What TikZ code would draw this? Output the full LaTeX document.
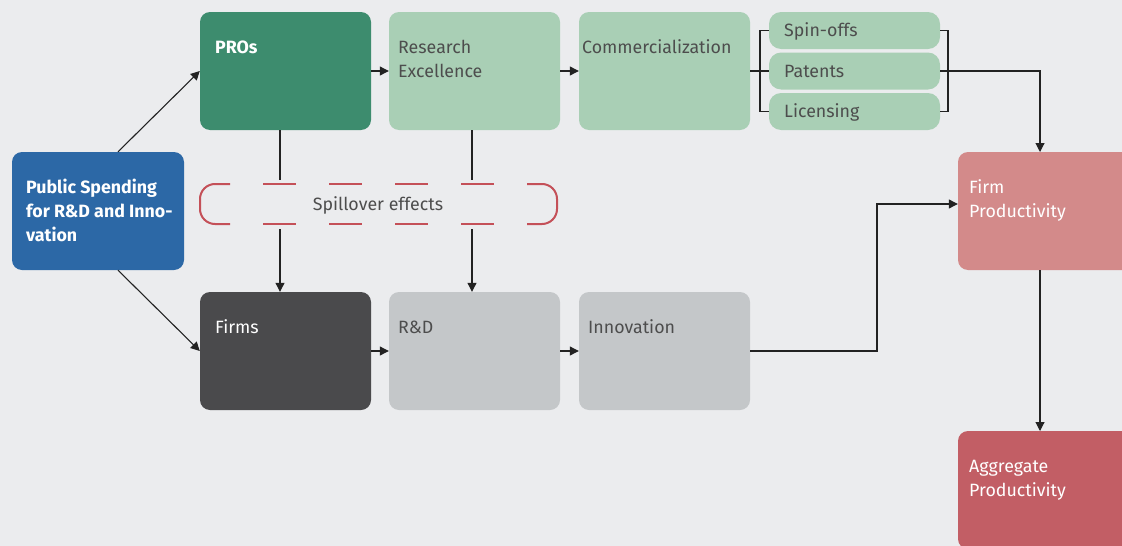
\documentclass[tikz,border=0pt]{standalone}
\usepackage{fontspec}
\setmainfont{Fira Sans}
\usetikzlibrary{arrows.meta}
\definecolor{bgc}{HTML}{EBECEE}
\definecolor{pubblue}{HTML}{2C68A6}
\definecolor{prosgreen}{HTML}{3D8C6E}
\definecolor{lightgreen}{HTML}{A9CFB5}
\definecolor{firmpink}{HTML}{D38A8A}
\definecolor{aggred}{HTML}{C25E65}
\definecolor{firmdark}{HTML}{4A4A4C}
\definecolor{lightgray}{HTML}{C4C7C9}
\definecolor{spillred}{HTML}{C45058}
\definecolor{txtgray}{HTML}{4D4D4D}
\definecolor{linec}{HTML}{222222}
\begin{document}
\begin{tikzpicture}[x=1pt,y=-1pt,
  box/.style={draw=none,rounded corners=10pt,inner sep=0pt,minimum width=171pt,minimum height=118pt},
  pill/.style={draw=none,rounded corners=12pt,inner sep=0pt,minimum width=171pt,minimum height=37pt},
  lbl/.style={anchor=base west,inner sep=0pt,align=left,font=\fontsize{17.8}{24}\selectfont},
  boldlbl/.style={lbl,text=white,font=\fontsize{17.8}{24}\selectfont\bfseries},
  conn/.style={draw=linec,line width=1.1pt},
  arr/.style={conn,-{Triangle[length=9pt,width=9pt]}}]
\fill[bgc] (0,0) rectangle (1122,546);
\useasboundingbox (0,0) rectangle (1122,546);

% boxes
\node[box,fill=pubblue,minimum width=172pt] (pub) at (98,211) {};
\node[box,fill=prosgreen] (pros) at (285.5,71) {};
\node[box,fill=lightgreen] (rex) at (474.5,71) {};
\node[box,fill=lightgreen] (com) at (664.5,71) {};
\node[pill,fill=lightgreen] (spin) at (854.5,30.5) {};
\node[pill,fill=lightgreen] (pat) at (854.5,71) {};
\node[pill,fill=lightgreen] (lic) at (854.5,111.5) {};
\node[box,fill=firmdark] (firms) at (285.5,351) {};
\node[box,fill=lightgray] (rd) at (474.5,351) {};
\node[box,fill=lightgray] (inn) at (664.5,351) {};
\node[box,fill=firmpink,minimum width=180pt] (fp) at (1048,211) {};
\node[box,fill=aggred,minimum width=180pt] (agg) at (1048,490) {};

% labels (anchored at the baseline of their last line)
\node[boldlbl] (tpub) at (26,241) {Public Spending\\for R\&D and Inno-\\vation};
\node[boldlbl] (tpros) at (215,53) {PROs};
\node[lbl,text=txtgray] (trex) at (398,77) {Research\\Excellence};
\node[lbl,text=txtgray] (tcom) at (582,53) {Commercialization};
\node[lbl,text=txtgray] (tspin) at (784,36) {Spin-offs};
\node[lbl,text=txtgray] (tpat) at (784,77) {Patents};
\node[lbl,text=txtgray] (tlic) at (784,117) {Licensing};
\node[lbl,text=white] (tfirms) at (215,333) {Firms};
\node[lbl,text=txtgray] (trd) at (398,333) {R\&D};
\node[lbl,text=txtgray] (tinn) at (588,333) {Innovation};
\node[lbl,text=white] (tfp) at (969,217) {Firm\\Productivity};
\node[lbl,text=white] (tagg) at (969,496) {Aggregate\\Productivity};

% spillover band
\node[inner sep=0pt,text=txtgray,font=\fontsize{17.8}{24}\selectfont] (spill) at (378,205) {Spillover effects};
\draw[spillred,line width=2pt,rounded corners=15pt] (230,184) -- (200,184) -- (200,224) -- (230,224);
\draw[spillred,line width=2pt,rounded corners=15pt] (527,184) -- (557,184) -- (557,224) -- (527,224);
\draw[spillred,line width=2pt,dash pattern=on 33pt off 33pt] (263,184) -- (494,184);
\draw[spillred,line width=2pt,dash pattern=on 33pt off 33pt] (263,224) -- (494,224);
\coordinate (sp1a) at (280,180);
\coordinate (sp1b) at (280,229);
\coordinate (sp2a) at (472,180);
\coordinate (sp2b) at (472,229);

% connectors
\draw[arr] (pub.north) ++(20,0) coordinate (pubt) -- (pros.west);
\draw[arr] (pub.south) ++(20,0) coordinate (pubb) -- (firms.west);
\draw[arr] (pros.east) -- (rex.west);
\draw[arr] (rex.east) -- (com.west);
\draw[arr] (firms.east) -- (rd.west);
\draw[arr] (rd.east) -- (inn.west);
\draw[conn] (pros.south -| sp1a) -- (sp1a);
\draw[arr] (sp1b) -- (firms.north -| sp1b);
\draw[conn] (rex.south -| sp2a) -- (sp2a);
\draw[arr] (sp2b) -- (rd.north -| sp2b);

% brackets around the commercialization channels
\coordinate (bl) at (760,71);
\coordinate (br) at (948,71);
\coordinate (fpin) at (1040,152);
\coordinate (fpout) at (1040,270);
\coordinate (aggin) at (1040,431);
\coordinate (innturn) at (877,351);
\draw[conn] (com.east) -- (bl);
\draw[conn] (spin.west) -- (spin.west -| bl) -- (lic.west -| bl) -- (lic.west);
\draw[conn] (pat.west -| bl) -- (pat.west);
\draw[conn] (spin.east) -- (spin.east -| br) -- (lic.east -| br) -- (lic.east);
\draw[conn] (pat.east) -- (br);
\draw[arr] (br) -| (fpin);
\draw[arr] (inn.east) -- (innturn) |- (fp.west |- 0,204);
\draw[arr] (fpout) -- (aggin);
\end{tikzpicture}
\end{document}
